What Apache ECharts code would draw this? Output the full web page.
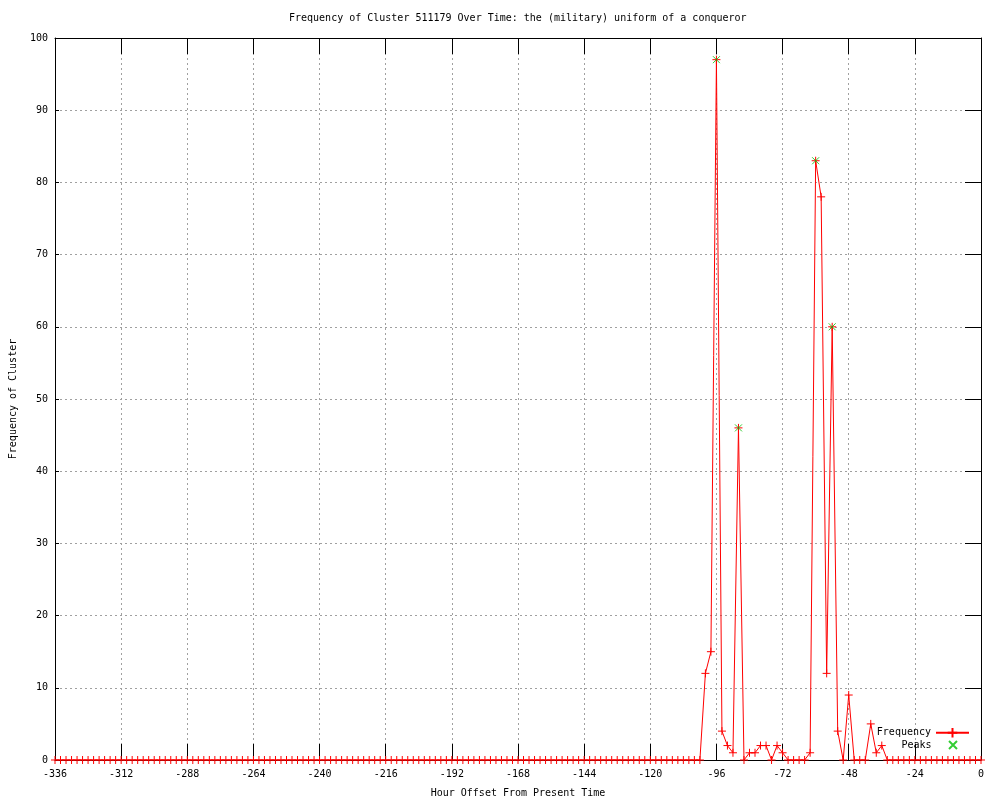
<!DOCTYPE html>
<html>
<head>
<meta charset="utf-8">
<script src="https://cdn.jsdelivr.net/npm/echarts@6/dist/echarts.min.js"></script>
<style>html,body{margin:0;padding:0;background:#fff}#c{width:1000px;height:800px}</style>
</head>
<body>
<div id="c"></div>
<script>
var titleText = 'Frequency of Cluster 511179 Over Time: the (military) uniform of a conqueror';
var xAxisName = 'Hour Offset From Present Time';
var yAxisName = 'Frequency of Cluster';

var hours = [
  -336,-334,-332,-330,-328,-326,-324,-322,-320,-318,-316,-314,
  -312,-310,-308,-306,-304,-302,-300,-298,-296,-294,-292,-290,
  -288,-286,-284,-282,-280,-278,-276,-274,-272,-270,-268,-266,
  -264,-262,-260,-258,-256,-254,-252,-250,-248,-246,-244,-242,
  -240,-238,-236,-234,-232,-230,-228,-226,-224,-222,-220,-218,
  -216,-214,-212,-210,-208,-206,-204,-202,-200,-198,-196,-194,
  -192,-190,-188,-186,-184,-182,-180,-178,-176,-174,-172,-170,
  -168,-166,-164,-162,-160,-158,-156,-154,-152,-150,-148,-146,
  -144,-142,-140,-138,-136,-134,-132,-130,-128,-126,-124,-122,
  -120,-118,-116,-114,-112,-110,-108,-106,-104,-102,-100,-98,
  -96,-94,-92,-90,-88,-86,-84,-82,-80,-78,-76,-74,
  -72,-70,-68,-66,-64,-62,-60,-58,-56,-54,-52,-50,
  -48,-46,-44,-42,-40,-38,-36,-34,-32,-30,-28,-26,
  -24,-22,-20,-18,-16,-14,-12,-10,-8,-6,-4,-2,
  0
];
var frequency = [
  0,0,0,0,0,0,0,0,0,0,0,0,
  0,0,0,0,0,0,0,0,0,0,0,0,
  0,0,0,0,0,0,0,0,0,0,0,0,
  0,0,0,0,0,0,0,0,0,0,0,0,
  0,0,0,0,0,0,0,0,0,0,0,0,
  0,0,0,0,0,0,0,0,0,0,0,0,
  0,0,0,0,0,0,0,0,0,0,0,0,
  0,0,0,0,0,0,0,0,0,0,0,0,
  0,0,0,0,0,0,0,0,0,0,0,0,
  0,0,0,0,0,0,0,0,0,0,12,15,
  97,4,2,1,46,0,1,1,2,2,0,2,
  1,0,0,0,0,1,83,78,12,60,4,0,
  9,0,0,0,5,1,2,0,0,0,0,0,
  0,0,0,0,0,0,0,0,0,0,0,0,
  0
];
var peakHours = [-96, -88, -60, -54];
var peakValues = [97, 46, 83, 60];
var xTicks = {min: -336, max: 0, interval: 24};
var yTicks = {min: 0, max: 100, interval: 10};

var FONT = 'DejaVu Sans Mono';
var txt = {color: '#000', fontFamily: FONT, fontSize: 10};
var freqData = hours.map(function (h, i) { return [h, frequency[i]]; });
var peakData = peakHours.map(function (h, i) { return [h, peakValues[i]]; });

var chart = echarts.init(document.getElementById('c'), null, {renderer: 'canvas'});
var axLine = {show: true, onZero: false, lineStyle: {color: '#000', width: 1}};
var grid = {show: true, lineStyle: {color: '#a0a0a0', width: 1, type: [2, 3]}};
chart.setOption({
  animation: false,
  backgroundColor: '#fff',
  title: {text: titleText, left: 289, top: 13, padding: 0,
    textStyle: {color: '#000', fontFamily: FONT, fontSize: 10, fontWeight: 'normal'}},
  grid: {left: 55, top: 38, width: 926, height: 722, containLabel: false, outerBoundsMode: 'none'},
  legend: [
    {data: ['Frequency'], right: 30, top: 727, align: 'right', orient: 'vertical',
     itemWidth: 33, itemHeight: 12, padding: 0, textStyle: txt, selectedMode: false},
    {data: ['Peaks'], right: 42, top: 740, align: 'right', orient: 'vertical',
     itemWidth: 33, itemHeight: 8, padding: 0, textStyle: txt, selectedMode: false}
  ],
  xAxis: [
    {type: 'value', position: 'bottom', min: xTicks.min, max: xTicks.max, interval: xTicks.interval,
     axisLine: axLine, axisTick: {show: true, inside: true, length: 16, lineStyle: {color: '#000'}},
     axisLabel: Object.assign({margin: 9, showMinLabel: true, showMaxLabel: true}, txt),
     splitLine: grid,
     name: xAxisName, nameLocation: 'middle', nameGap: 28, nameTextStyle: txt},
    {type: 'value', position: 'top', min: xTicks.min, max: xTicks.max, interval: xTicks.interval,
     axisLine: axLine, axisTick: {show: true, inside: true, length: 16, lineStyle: {color: '#000'}},
     axisLabel: {show: false}, splitLine: {show: false}}
  ],
  yAxis: [
    {type: 'value', position: 'left', min: yTicks.min, max: yTicks.max, interval: yTicks.interval,
     axisLine: axLine, axisTick: {show: true, inside: true, length: 4, lineStyle: {color: '#000'}},
     axisLabel: Object.assign({margin: 7, padding: [3, 0, 0, 0]}, txt),
     splitLine: grid,
     name: yAxisName, nameLocation: 'middle', nameGap: 37, nameRotate: 90, nameTextStyle: txt},
    {type: 'value', position: 'right', min: yTicks.min, max: yTicks.max, interval: yTicks.interval,
     axisLine: axLine, axisTick: {show: true, inside: true, length: 16, lineStyle: {color: '#000'}},
     axisLabel: {show: false}, splitLine: {show: false}}
  ],
  series: [
    {name: 'Frequency', type: 'line', data: freqData, xAxisIndex: 0, yAxisIndex: 0,
     symbol: 'path://M0,4L8,4M4,0L4,8', symbolSize: 8, showAllSymbol: true,
     lineStyle: {color: '#ff0000', width: 1},
     itemStyle: {color: '#ff0000', borderColor: '#ff0000', borderWidth: 1},
     emphasis: {disabled: true}, z: 2},
    {name: 'Peaks', type: 'scatter', data: peakData, xAxisIndex: 0, yAxisIndex: 0,
     symbol: 'path://M0,0L8,8M8,0L0,8', symbolSize: 7,
     itemStyle: {color: '#00c000', borderColor: '#00c000', borderWidth: 1},
     emphasis: {disabled: true}, z: 3}
  ]
});
</script>
</body>
</html>
